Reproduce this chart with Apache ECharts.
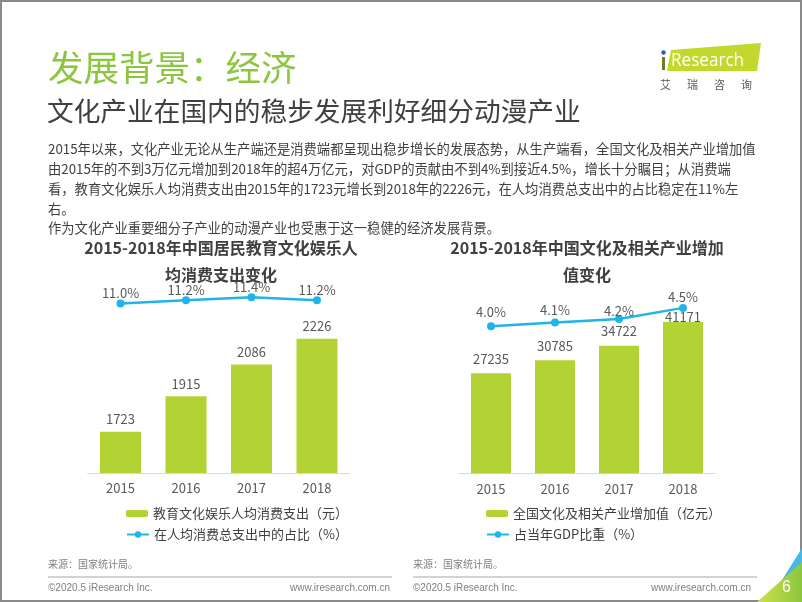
<!DOCTYPE html>
<html><head><meta charset="utf-8">
<script src="https://cdn.jsdelivr.net/npm/echarts@6/dist/echarts.min.js"></script>
<style>html,body{margin:0;padding:0;background:#fff}#c{width:802px;height:602px}</style>
</head><body><div id="c"></div>
<script>
const years = ['2015', '2016', '2017', '2018'];
const spendValues = [1723, 1915, 2086, 2226];
const spendShare = [11.0, 11.2, 11.4, 11.2];
const industryValues = [27235, 30785, 34722, 41171];
const gdpShare = [4.0, 4.1, 4.2, 4.5];
const seriesNames = ['教育文化娱乐人均消费支出（元）', '在人均消费总支出中的占比（%）', '全国文化及相关产业增加值（亿元）', '占当年GDP比重（%）'];
const paragraph = [
  '2015年以来，文化产业无论从生产端还是消费端都呈现出稳步增长的发展态势，从生产端看，全国文化及相关产业增加值',
  '由2015年的不到3万亿元增加到2018年的超4万亿元，对GDP的贡献由不到4%到接近4.5%，增长十分瞩目；从消费端',
  '看，教育文化娱乐人均消费支出由2015年的1723元增长到2018年的2226元，在人均消费总支出中的占比稳定在11%左',
  '右。',
  '作为文化产业重要细分子产业的动漫产业也受惠于这一稳健的经济发展背景。'
];
const logoChars = ['艾', '瑞', '咨', '询'];

const FONT = '"Noto Sans CJK SC", "Noto Sans", sans-serif';
const GREEN = '#b3d234';
const BLUE = '#1fb5e8';
const chart = echarts.init(document.getElementById('c'), null, {renderer: 'canvas'});

function txt(x, y, text, size, color, extra, props) {
  return Object.assign({
    type: 'text', x: x, y: y, silent: true,
    style: Object.assign({text: text, fontSize: size, fill: color, fontFamily: FONT, verticalAlign: 'middle', align: 'left'}, extra || {})
  }, props || {});
}
const paraY = [149, 169, 189, 209, 228];
const graphics = [
  {type: 'rect', shape: {x: 1, y: 1, width: 800, height: 600}, style: {fill: 'none', stroke: '#8a8a8a', lineWidth: 2}, silent: true},
  txt(48, 68, '发展背景：经济', 35.5, '#8cc63f'),
  txt(47, 111, '文化产业在国内的稳步发展利好细分动漫产业', 26.7, '#404040'),
  // logo
  {type: 'polygon', shape: {points: [[671, 50], [761, 43], [757, 71], [667, 71]]}, style: {fill: '#c3d82d'}, silent: true},
  {type: 'rect', shape: {x: 662, y: 57, width: 3, height: 13}, style: {fill: '#6f7d1e'}, silent: true},
  {type: 'circle', shape: {cx: 663.5, cy: 52.5, r: 2.2}, style: {fill: '#2e5fae'}, silent: true},
  txt(671, 61, 'Research', 19, '#ffffff', {fontFamily: '"Open Sans", sans-serif'}, {scaleX: 0.9}),
  // chart titles
  txt(221, 248, '2015-2018年中国居民教育文化娱乐人', 16, '#404040', {fontWeight: 'bold', align: 'center'}),
  txt(221, 275, '均消费支出变化', 16, '#404040', {fontWeight: 'bold', align: 'center'}),
  txt(587, 248, '2015-2018年中国文化及相关产业增加', 16, '#404040', {fontWeight: 'bold', align: 'center'}),
  txt(587, 275, '值变化', 16, '#404040', {fontWeight: 'bold', align: 'center'}),
  // sources and footers
  txt(48, 564, '来源：国家统计局。', 10, '#808080'),
  txt(413, 564, '来源：国家统计局。', 10, '#808080'),
  {type: 'line', shape: {x1: 48, y1: 577, x2: 392, y2: 577}, style: {stroke: '#a6a6a6', lineWidth: 1}, silent: true},
  {type: 'line', shape: {x1: 413, y1: 577, x2: 757, y2: 577}, style: {stroke: '#a6a6a6', lineWidth: 1}, silent: true},
  txt(48, 588, '©2020.5 iResearch Inc.', 10, '#808080', {fontFamily: '"Liberation Sans", Arial, sans-serif'}),
  txt(413, 588, '©2020.5 iResearch Inc.', 10, '#808080', {fontFamily: '"Liberation Sans", Arial, sans-serif'}),
  txt(390, 588, 'www.iresearch.com.cn', 10, '#808080', {fontFamily: '"Liberation Sans", Arial, sans-serif', align: 'right'}),
  txt(751, 588, 'www.iresearch.com.cn', 10, '#808080', {fontFamily: '"Liberation Sans", Arial, sans-serif', align: 'right'}),
  // corner
  {type: 'polygon', shape: {points: [[772, 596], [802, 548], [802, 602], [772, 602]]}, style: {fill: '#45b8e6'}, silent: true},
  {type: 'polygon', shape: {points: [[757, 602], [802, 562], [802, 602]]}, style: {fill: new echarts.graphic.LinearGradient(0, 0, 1, 0, [{offset: 0, color: '#d2e04a'}, {offset: 1, color: '#8cc63f'}])}, silent: true},
  txt(782, 588, '6', 16, '#ffffff', {fontFamily: '"Liberation Sans", Arial, sans-serif'})
];
paragraph.forEach(function (line, i) { graphics.push(txt(48, paraY[i], line, 13.3, '#404040')); });
logoChars.forEach(function (ch, i) { graphics.push(txt(660 + i * 27, 85, ch, 11, '#595959')); });

const labelStyle = {fontSize: 13, color: '#595959', fontFamily: FONT};
function legend(name, left, top, isLine) {
  return {
    data: [name], left: left, top: top, orient: 'vertical', selectedMode: false, padding: 0,
    itemWidth: 22, itemHeight: isLine ? 8 : 7, itemGap: 0,
    textStyle: {fontSize: 13, color: '#404040', fontFamily: FONT}
  };
}
const pct = function (p) { return p.value.toFixed(1) + '%'; };

const option = {
  animation: false,
  graphic: graphics,
  legend: [
    legend(seriesNames[0], 126, 507, false),
    legend(seriesNames[1], 126, 528, true),
    legend(seriesNames[2], 486, 507, false),
    legend(seriesNames[3], 486, 528, true)
  ],
  grid: [
    {left: 87.75, top: 288, width: 262, height: 185},
    {left: 459, top: 289.5, width: 256, height: 183.8}
  ],
  xAxis: [0, 1].map(function (i) {
    return {
      type: 'category', gridIndex: i, data: years,
      axisLine: {lineStyle: {color: '#d9d9d9', width: 1}}, axisTick: {show: false},
      axisLabel: {fontSize: 13, color: '#595959', margin: 9, fontFamily: FONT}
    };
  }),
  yAxis: [
    {type: 'value', gridIndex: 0, min: 1500, max: 2500, show: false},
    {type: 'value', gridIndex: 0, min: 0, max: 12, show: false},
    {type: 'value', gridIndex: 1, min: 0, max: 50000, show: false},
    {type: 'value', gridIndex: 1, min: 0, max: 5, show: false}
  ],
  series: [
    {name: seriesNames[0], type: 'bar', xAxisIndex: 0, yAxisIndex: 0, data: spendValues, barWidth: 41,
      itemStyle: {color: GREEN}, label: Object.assign({show: true, position: 'top', distance: 6}, labelStyle)},
    {name: seriesNames[1], type: 'line', xAxisIndex: 0, yAxisIndex: 1, data: spendShare,
      symbol: 'circle', symbolSize: 8, lineStyle: {color: BLUE, width: 2.5}, itemStyle: {color: BLUE},
      label: Object.assign({show: true, position: 'top', distance: 0, formatter: pct}, labelStyle)},
    {name: seriesNames[2], type: 'bar', xAxisIndex: 1, yAxisIndex: 2, barWidth: 40,
      data: industryValues.map(function (v, i) { return {value: v, label: {distance: [8, 8, 8, -1.5][i]}}; }),
      itemStyle: {color: GREEN}, label: Object.assign({show: true, position: 'top'}, labelStyle)},
    {name: seriesNames[3], type: 'line', xAxisIndex: 1, yAxisIndex: 3,
      data: gdpShare.map(function (v, i) { return {value: v, label: {distance: [4, 2, -3, 0][i]}}; }),
      symbol: 'circle', symbolSize: 8, lineStyle: {color: BLUE, width: 2.5}, itemStyle: {color: BLUE},
      label: Object.assign({show: true, position: 'top', formatter: pct}, labelStyle)}
  ]
};
chart.setOption(option);
</script></body></html>
